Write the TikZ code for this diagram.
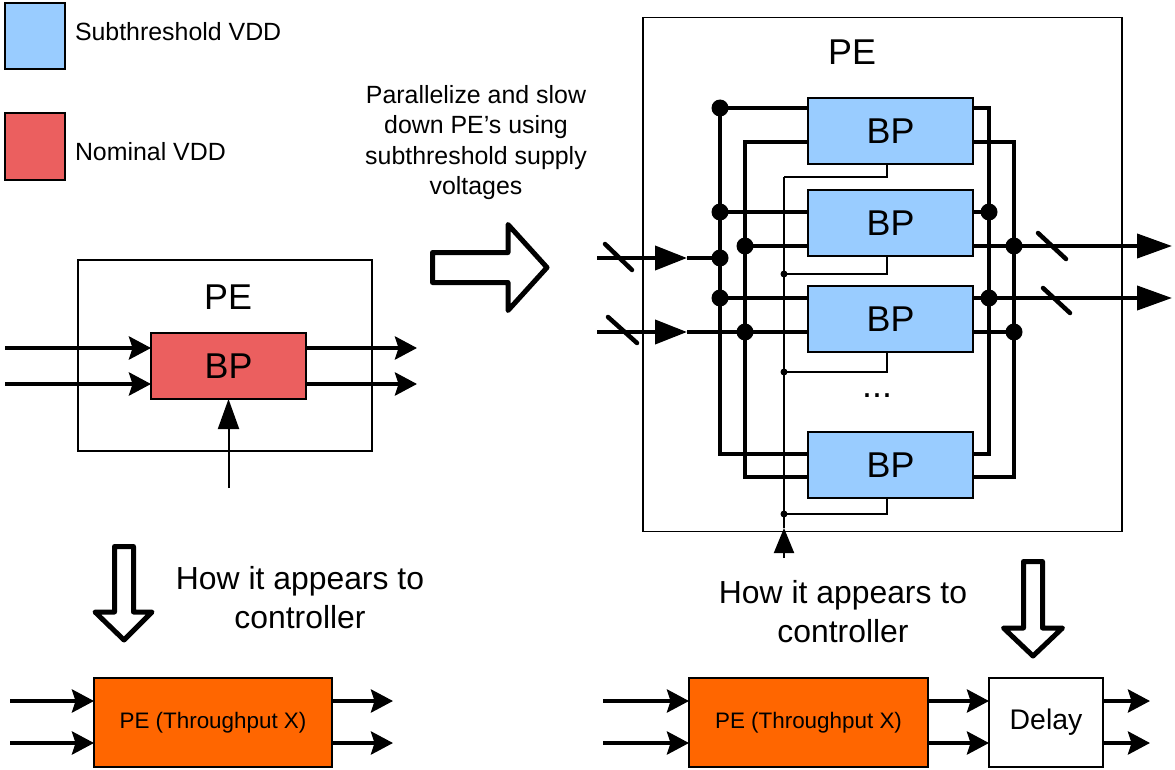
\documentclass[tikz,border=0pt]{standalone}
\usepackage{fontspec}
\setmainfont{Liberation Sans}
\usepackage{tikz}
\usetikzlibrary{arrows.meta,calc,positioning}
\definecolor{subblue}{HTML}{99CCFF}
\definecolor{nomred}{HTML}{EB5F5F}
\definecolor{peorange}{HTML}{FF6600}
\tikzset{
  every node/.style={inner sep=0pt,outer sep=0pt},
  fbig/.style={font=\fontsize{36}{40}\selectfont},
  fmid/.style={font=\fontsize{32}{39}\selectfont},
  ftxt/.style={font=\fontsize{25}{30.5}\selectfont},
  fsmall/.style={font=\fontsize{22.5}{26}\selectfont},
  frame/.style={draw,line width=1.8bp},
  bp/.style={draw,line width=2bp,fill=subblue,minimum width=165bp,minimum height=66bp,fbig},
  blk/.style={draw,line width=2bp,minimum height=89bp},
  bus/.style={line width=4bp},
  wire/.style={line width=2bp},
  slash/.style={line width=4.5bp,line cap=round},
  hollow/.style={line width=5bp,line join=round,fill=white},
  sig/.style={bus,-{Stealth[length=22bp,width=23bp,inset=3.5bp]}},
  fat/.style={bus,-{Triangle[length=32bp,width=24bp]}},
  fatout/.style={bus,-{Triangle[length=35bp,width=24bp]}},
}
\begin{document}
\begin{tikzpicture}[x=1bp,y=-1bp]
  \useasboundingbox (0,0) rectangle (1175,770);
  % legend and note
  \node[frame,fill=subblue,minimum width=60bp,minimum height=66bp] (lgs) at (35,36) {};
  \node[ftxt,anchor=west] (lgst) at (75,32) {Subthreshold VDD};
  \node[frame,fill=nomred,minimum width=60bp,minimum height=67bp] (lgn) at (35,146.5) {};
  \node[ftxt,anchor=west] (lgnt) at (75,152) {Nominal VDD};
  \node[ftxt,align=center] (note) at (476,142.5) {Parallelize and slow\\down PE's using\\subthreshold supply\\voltages};
  % hollow arrows
  \draw[hollow] (432.5,252.5) -- (508,252.5) -- (508,224.5) -- (547,267.5) -- (508,310.5) -- (508,282.5) -- (432.5,282.5) -- cycle;
  \draw[hollow] (114.5,546.5) -- (133.5,546.5) -- (133.5,612) -- (152,612) -- (124,640) -- (95,612) -- (114.5,612) -- cycle;
  \draw[hollow] (1023.5,561.5) -- (1042.5,561.5) -- (1042.5,628) -- (1062.5,628) -- (1033,656) -- (1003.5,628) -- (1023.5,628) -- cycle;
  % single PE
  \node[frame,minimum width=294bp,minimum height=191bp] (lpe) at (225,355.5) {};
  \node[fbig] (lpet) at (228,297) {PE};
  \node[bp,fill=nomred,minimum width=155bp] (lbp) at (228.5,366) {BP};
  \foreach \y [count=\i] in {348,384}{
    \coordinate (li\i) at (5,\y);
    \coordinate (lo\i) at (417,\y);
    \draw[sig] (li\i) -- (li\i -| lbp.west);
    \draw[sig] (lo\i -| lbp.east) -- (lo\i);
  }
  \coordinate (lc) at (228.5,488);
  \draw[wire,-{Triangle[length=30bp,width=21bp]}] (lc) -- (lbp.south);
  % parallel PE
  \node[frame,minimum width=479bp,minimum height=514bp] (rpe) at (882.5,274.5) {};
  \node[fbig] (rpet) at (852,52) {PE};
  \coordinate (busA) at (720,0);
  \coordinate (busB) at (745,0);
  \coordinate (busC) at (989,0);
  \coordinate (busD) at (1014,0);
  \foreach \n/\yc/\ua/\lb/\sy in {1/131/108/142/177,2/223/212/246/274,3/319/298/332/372,4/465/454/477/514}{
    \node[bp] (bp\n) at (890.5,\yc) {BP};
    \coordinate (ul\n) at (808,\ua);
    \coordinate (ll\n) at (808,\lb);
    \coordinate (ur\n) at (973,\ua);
    \coordinate (lr\n) at (973,\lb);
    \coordinate (cs\n) at (784,\sy);
    \draw[wire] ($(bp\n.south)+(-3.5,0)$) |- (cs\n);
  }
  \node[fbig] (more) at (877,396) {...};
  \draw[bus] (ul1) -| (busA |- ul4) -- (ul4);
  \draw[bus] (ll1) -| (busB |- ll4) -- (ll4);
  \draw[bus] (ur1) -| (busC |- ur4) -- (ur4);
  \draw[bus] (lr1) -| (busD |- lr4) -- (lr4);
  \foreach \n in {2,3}{
    \draw[bus] (busA |- ul\n) -- (ul\n);
    \draw[bus] (busB |- ll\n) -- (ll\n);
    \draw[bus] (ur\n) -- (busC |- ur\n);
    \draw[bus] (lr\n) -- (busD |- lr\n);
  }
  \coordinate (ri1) at (597,258);
  \coordinate (ri2) at (597,332);
  \coordinate (rt1) at (687,258);
  \coordinate (rt2) at (687,332);
  \coordinate (ro1) at (1172,246);
  \coordinate (ro2) at (1172,298);
  \draw[fat] (ri1) -- (rt1);
  \draw[bus] (rt1) -- (busA |- ri1);
  \draw[fat] (ri2) -- (rt2);
  \draw[bus] (rt2) -- (ll3);
  \draw[fatout] (lr2) -- (ro1);
  \draw[fatout] (ur3) -- (ro2);
  \foreach \p in {busA |- ul1,busA |- ul2,busA |- ri1,busA |- ul3,busB |- ll2,busB |- ll3,busC |- ur2,busC |- ur3,busD |- lr2,busD |- lr3}
    \fill (\p) circle[radius=8.5bp];
  \foreach \n in {2,3,4}
    \fill (cs\n) circle[radius=3.5bp];
  \coordinate (ctlsrc) at (784,558);
  \coordinate (ctltip) at (784,528);
  \draw[wire] (cs1) -- (ctltip);
  \draw[wire,-{Triangle[length=25bp,width=20bp]}] (ctlsrc) -- (ctltip);
  \draw[slash] (605,244) -- (632,270);
  \draw[slash] (608,317) -- (637,343);
  \draw[slash] (1038,233) -- (1066,259);
  \draw[slash] (1043,288) -- (1070,313);
  % how it appears to the controller
  \node[fmid,align=center] (seen1) at (300,597.5) {How it appears to\\controller};
  \node[fmid,align=center] (seen2) at (843,612) {How it appears to\\controller};
  \node[blk,fill=peorange,minimum width=238bp,fsmall] (cpe1) at (213,722.5) {PE (Throughput X)};
  \node[blk,fill=peorange,minimum width=239bp,fsmall] (cpe2) at (808.5,722.5) {PE (Throughput X)};
  \node[blk,fill=white,minimum width=114bp,font=\fontsize{28.5}{32}\selectfont] (dly) at (1046,722.5) {Delay};
  \foreach \y [count=\i] in {701,743}{
    \coordinate (bi\i) at (10,\y);
    \coordinate (bo\i) at (393,\y);
    \coordinate (bj\i) at (603,\y);
    \coordinate (bk\i) at (1150,\y);
    \draw[sig] (bi\i) -- (bi\i -| cpe1.west);
    \draw[sig] (bo\i -| cpe1.east) -- (bo\i);
    \draw[sig] (bj\i) -- (bj\i -| cpe2.west);
    \draw[sig] (bj\i -| cpe2.east) -- (bj\i -| dly.west);
    \draw[sig] (bk\i -| dly.east) -- (bk\i);
  }
\end{tikzpicture}
\end{document}
